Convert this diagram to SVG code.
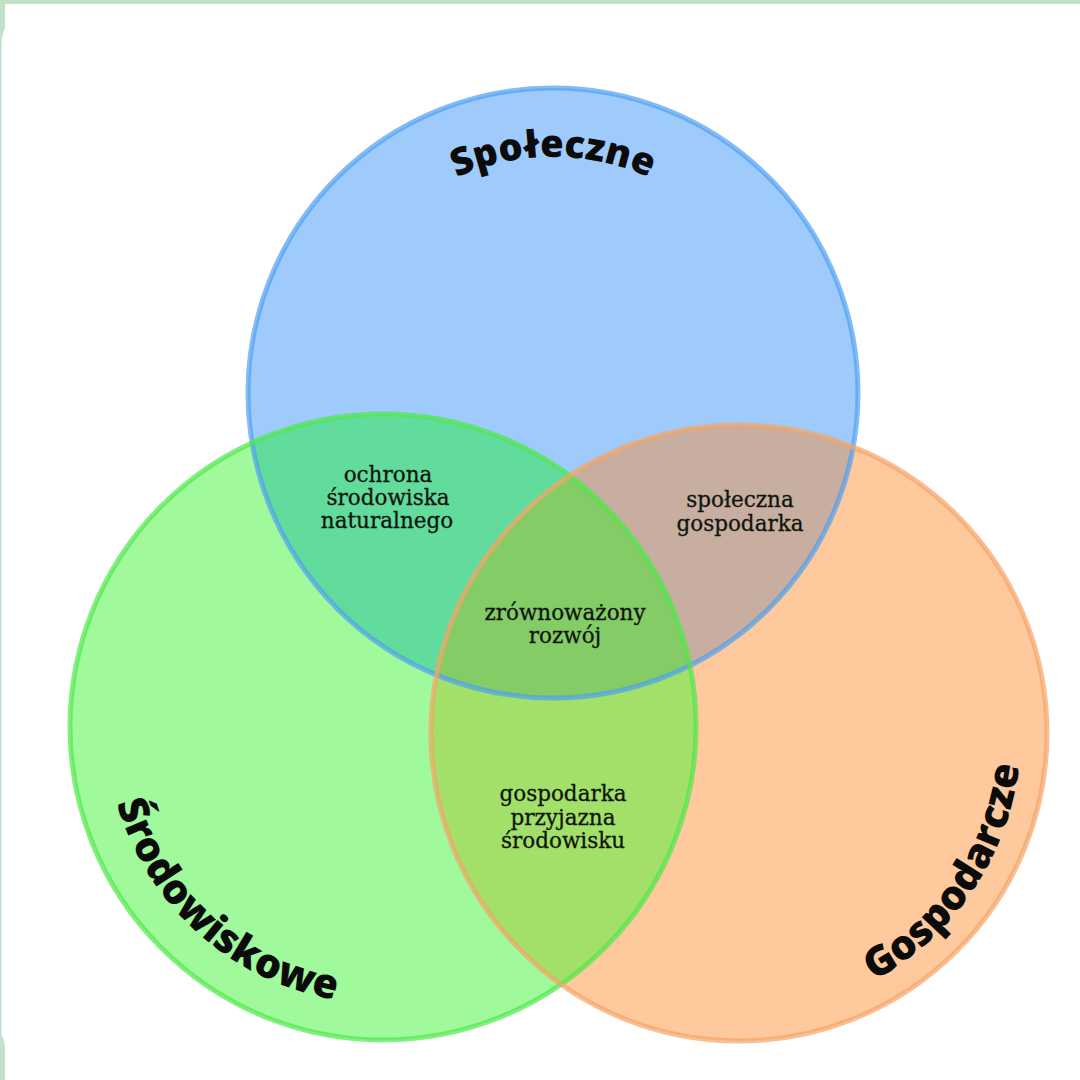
<svg xmlns="http://www.w3.org/2000/svg" xmlns:xlink="http://www.w3.org/1999/xlink" width="1080" height="1080" viewBox="0 0 1080 1080">
  <style>
    .lbl { font-family: "Open Sans", "DejaVu Sans", sans-serif; font-weight: 800; font-size: 41px; fill: #0b0b0b; }
    .top { font-size: 38px; }
    .mid { font-family: "DejaVu Serif", "Liberation Serif", serif; font-size: 21.5px; fill: #10160e; text-anchor: middle; stroke: #10160e; stroke-width: 0.3; }
    .edge { fill: none; stroke-width: 5; stroke-opacity: 0.7; }
  </style>
  <defs>
    <circle id="cB" cx="553" cy="393" r="305"/>
    <circle id="cG" cx="383" cy="727" r="313"/>
    <circle id="cO" cx="739" cy="733" r="308"/>
    <clipPath id="clipB"><use xlink:href="#cB"/></clipPath>
    <clipPath id="clipG"><use xlink:href="#cG"/></clipPath>
    <clipPath id="clipO"><use xlink:href="#cO"/></clipPath>
    <path id="arcB" d="M348.6,275 A236,236 0 0 1 757.4,275"/>
    <path id="arcG" d="M112.1,669.4 A277,277 0 0 0 468.6,990.4"/>
    <path id="arcO" d="M719.3,1014.3 A282,282 0 0 0 992.5,609.4"/>
  </defs>

  <!-- frame -->
  <rect x="0" y="0" width="1080" height="1080" fill="#c3e1c8"/>
  <path d="M5,4 H1080 V1080 H5 V1050 Q5,1040 1.5,1035 V46 Q1.5,36 5,28 Z" fill="#ffffff"/>

  <!-- base fills -->
  <g id="fills">
    <use xlink:href="#cB" fill="#9ecbfb"/>
    <use xlink:href="#cG" fill="#a0f99b"/>
    <use xlink:href="#cO" fill="#fdc99d"/>
  </g>

  <!-- overlaps -->
  <g id="overlaps">
    <g clip-path="url(#clipB)"><use xlink:href="#cG" fill="#62dc9c"/></g>
    <g clip-path="url(#clipB)"><use xlink:href="#cO" fill="#c7aea0"/></g>
    <g clip-path="url(#clipG)"><use xlink:href="#cO" fill="#a2e06a"/></g>
    <g clip-path="url(#clipB)"><g clip-path="url(#clipG)"><use xlink:href="#cO" fill="#84cc66"/></g></g>
  </g>

  <!-- outlines -->
  <g id="outlines">
    <use xlink:href="#cB" class="edge" stroke="#4f9ff2"/>
    <use xlink:href="#cG" class="edge" stroke="#4fe84a"/>
    <use xlink:href="#cO" class="edge" stroke="#f5a466"/>
  </g>

  <g id="node-spoleczne">
    <text class="lbl top"><textPath xlink:href="#arcB" startOffset="50%" text-anchor="middle">Społeczne</textPath></text>
  </g>
  <g id="node-srodowiskowe">
    <text class="lbl"><textPath xlink:href="#arcG" startOffset="50%" text-anchor="middle">Środowiskowe</textPath></text>
  </g>
  <g id="node-gospodarcze">
    <text class="lbl"><textPath xlink:href="#arcO" startOffset="50%" text-anchor="middle">Gospodarcze</textPath></text>
  </g>

  <g id="overlap-ochrona">
    <text class="mid" x="388" y="482">ochrona</text>
    <text class="mid" x="388" y="505">środowiska</text>
    <text class="mid" x="387" y="528">naturalnego</text>
  </g>
  <g id="overlap-spoleczna">
    <text class="mid" x="740" y="507">społeczna</text>
    <text class="mid" x="740" y="531">gospodarka</text>
  </g>
  <g id="overlap-zrownowazony">
    <text class="mid" x="565" y="620">zrównoważony</text>
    <text class="mid" x="565" y="643">rozwój</text>
  </g>
  <g id="overlap-przyjazna">
    <text class="mid" x="563" y="801">gospodarka</text>
    <text class="mid" x="563" y="825">przyjazna</text>
    <text class="mid" x="563" y="848">środowisku</text>
  </g>
</svg>
